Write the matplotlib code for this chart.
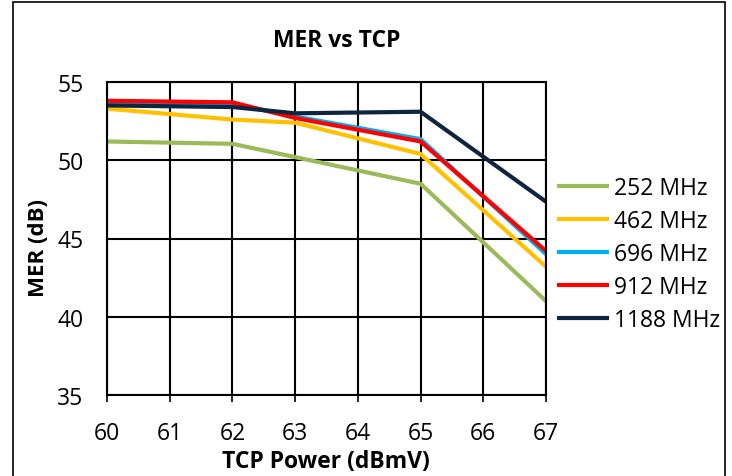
import matplotlib
matplotlib.use("Agg")
import matplotlib.pyplot as plt
from matplotlib.patches import Rectangle

plt.rcParams['font.family'] = ['Open Sans', 'DejaVu Sans']

tcp = [60, 62, 63, 65, 67]
mer_252 = [51.2, 51.05, 50.2, 48.5, 41.0]
mer_462 = [53.3, 52.6, 52.4, 50.4, 43.2]
mer_696 = [53.7, 53.6, 52.8, 51.35, 44.0]
mer_912 = [53.8, 53.7, 52.7, 51.2, 44.2]
mer_1188 = [53.5, 53.4, 53.0, 53.1, 47.35]

series = [
    ("252 MHz", mer_252, "#9BBB59"),
    ("462 MHz", mer_462, "#FFC000"),
    ("696 MHz", mer_696, "#00B0F0"),
    ("912 MHz", mer_912, "#FF0000"),
    ("1188 MHz", mer_1188, "#0F243E"),
]

W, H = 732, 477
fig = plt.figure(figsize=(W / 100, H / 100), dpi=100)
ax = fig.add_axes([107 / W, 1 - 396 / H, (546 - 107) / W, (396 - 83) / H])

for label, vals, col in series:
    ax.plot(tcp, vals, color=col, lw=3, label=label, solid_capstyle='butt')

ax.set_xlim(60, 67)
ax.set_ylim(35, 55)
ax.set_xticks(range(60, 68))
ax.set_yticks(range(35, 56, 5))
ax.grid(True, color='black', lw=1.5)
ax.set_axisbelow(True)
for s in ax.spines.values():
    s.set_color('black')
    s.set_linewidth(1.5)
ax.tick_params(axis='y', length=0, labelsize=16.5, pad=17)
ax.tick_params(axis='x', length=5, width=1.2, direction='out', labelsize=16.5, pad=14)

fig.text(326 / W, 1 - 462 / H, "TCP Power (dBmV)", fontsize=16.5, fontweight='bold',
         ha='center', va='center')
fig.text(39 / W, 1 - 248 / H, "MER (dB)", fontsize=16, fontweight='bold',
         ha='center', va='center', rotation=90)
fig.text(337 / W, 1 - 41 / H, "MER vs TCP", fontsize=16.5, fontweight='bold',
         ha='center', va='center')

ax.legend(loc='center left', bbox_to_anchor=(0.988, 0.45), frameon=False,
          fontsize=16.5, handlelength=2.3, labelspacing=0.4, handletextpad=0.2,
          borderaxespad=0.3)

fig.patches.append(Rectangle((13 / W, -0.05), (725 - 13) / W, 1.05 - 3 / H,
                             transform=fig.transFigure, fill=False,
                             edgecolor='black', lw=1.2, clip_on=False))

fig.savefig("out.png", dpi=100)
